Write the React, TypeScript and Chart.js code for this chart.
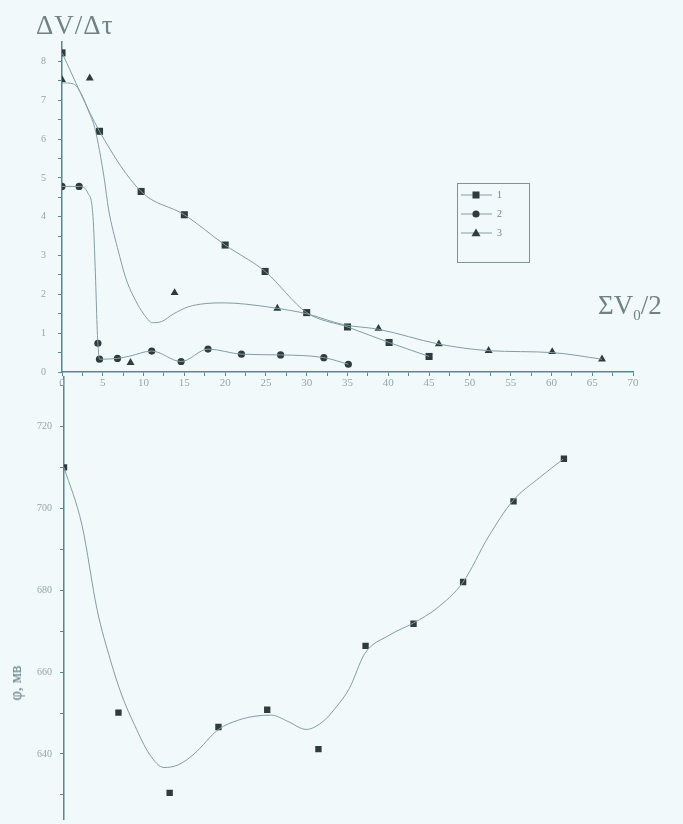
import React, { useEffect, useRef } from "react";
import { Chart, registerables } from "chart.js";
Chart.register(...registerables);

// ---------- data ----------
const xTickValues = [0, 2.5, 5, 7.5, 10, 12.5, 15, 17.5, 20, 22.5, 25, 27.5, 30, 32.5, 35, 37.5, 40, 42.5, 45, 47.5, 50, 52.5, 55, 57.5, 60, 62.5, 65, 67.5, 70];
const topYTickValues = [0, 0.5, 1, 1.5, 2, 2.5, 3, 3.5, 4, 4.5, 5, 5.5, 6, 6.5, 7, 7.5, 8];
const bottomYTickValues = [630, 640, 650, 660, 670, 680, 690, 700, 710, 720, 730];

// series 1 (squares)
const s1X = [0, 4.6, 9.7, 15.0, 20.0, 24.9, 30.0, 35.0, 40.1, 45.0];
const s1Y = [8.22, 6.2, 4.65, 4.05, 3.27, 2.59, 1.53, 1.16, 0.76, 0.4];
// series 2 (circles)
const s2X = [0, 2.1, 4.4, 4.6, 6.8, 11.0, 14.6, 17.9, 22.0, 26.8, 32.1, 35.1];
const s2Y = [4.78, 4.78, 0.74, 0.33, 0.35, 0.54, 0.27, 0.59, 0.46, 0.44, 0.37, 0.2];
// series 3 (triangles)
const s3X = [0, 3.4, 8.4, 13.8, 26.4, 38.8, 46.2, 52.3, 60.1, 66.2];
const s3Y = [7.53, 7.57, 0.24, 2.04, 1.64, 1.12, 0.72, 0.55, 0.52, 0.33];

// fitted curve of series 2
const c2X = [0, 2.1, 3.2, 3.8, 4.1, 4.3, 4.4, 4.6, 6.8, 8.3, 11.0, 14.6, 17.9, 22.0, 26.8, 32.1, 35.1];
const c2Y = [4.78, 4.78, 4.6, 4.0, 2.5, 1.2, 0.74, 0.33, 0.35, 0.41, 0.54, 0.27, 0.59, 0.46, 0.44, 0.37, 0.2];
// fitted curve of series 3
const c3X = [0, 1.4, 2.4, 3.2, 4.0, 4.6, 5.2, 5.7, 6.8, 7.9, 9.0, 10.0, 11.1, 12.2, 13.7, 15.5, 17.5, 20.0, 22.4, 26.4, 30.0, 34.5, 38.8, 46.2, 52.3, 60.1, 66.2];
const c3Y = [7.45, 7.42, 7.15, 6.75, 6.3, 5.7, 4.95, 4.2, 3.2, 2.37, 1.85, 1.5, 1.27, 1.3, 1.5, 1.68, 1.76, 1.78, 1.75, 1.64, 1.5, 1.22, 1.1, 0.72, 0.55, 0.5, 0.33];

// lower panel: potential
const pX = [0, 6.7, 13.0, 19.0, 25.0, 31.3, 37.1, 43.0, 49.1, 55.3, 61.5];
const pY = [710, 650.1, 630.5, 646.6, 650.8, 641.2, 666.4, 671.8, 682.0, 701.7, 712.1];
const cbX = [0, 2.2, 4.1, 5.7, 7.1, 8.7, 10.5, 12.3, 14.0, 16.0, 19.0, 21.5, 23.4, 25.5, 27.5, 29.8, 31.9, 33.5, 35.1, 37.0, 40.0, 43.0, 45.8, 49.1, 52.2, 55.2, 58.5, 61.4];
const cbY = [710, 696, 675, 663, 654.4, 647, 640, 636.7, 637.3, 640, 646, 648.3, 649.2, 649.5, 648, 646, 648, 651.5, 656, 664.5, 669, 672, 675.5, 682, 693, 701.8, 707.5, 712];

const legendLabels = ["1", "2", "3"];
const legendStyles = ["rect", "circle", "triangle"];

// ---------- styles ----------
const BG = "#f2f9fb";
const AXIS = "#4f8b92";
const LINE = "#7f9ea3";
const MARK = "#2f3c3e";
const TICK_TXT = "#93a7aa";
const FONT = "'Liberation Serif', 'DejaVu Serif', serif";

const pts = (xs: number[], ys: number[]) => xs.map((x, i) => ({ x, y: ys[i] }));

function drawMarker(ctx: CanvasRenderingContext2D, style: string, x: number, y: number) {
  ctx.beginPath();
  if (style === "rect") {
    ctx.rect(x - 3.5, y - 3.5, 7, 7);
  } else if (style === "circle") {
    ctx.arc(x, y, 3.6, 0, Math.PI * 2);
  } else {
    ctx.moveTo(x, y - 4.5);
    ctx.lineTo(x + 4.5, y + 3.2);
    ctx.lineTo(x - 4.5, y + 3.2);
    ctx.closePath();
  }
  ctx.fill();
}

const legendPlugin = {
  id: "boxLegend",
  afterDraw(chart: any) {
    const ctx = chart.ctx as CanvasRenderingContext2D;
    ctx.save();
    ctx.strokeStyle = "#7d9497";
    ctx.lineWidth = 1;
    ctx.strokeRect(457.5, 183.5, 72, 79);
    const ys = [195, 214, 233];
    legendLabels.forEach((lab, i) => {
      const y = ys[i];
      ctx.strokeStyle = LINE;
      ctx.beginPath();
      ctx.moveTo(461, y);
      ctx.lineTo(492, y);
      ctx.stroke();
      ctx.fillStyle = MARK;
      drawMarker(ctx, legendStyles[i], 476, y);
      ctx.fillStyle = "#6f8588";
      ctx.font = `10px ${FONT}`;
      ctx.textBaseline = "middle";
      ctx.fillText(lab, 497, y);
    });
    ctx.restore();
  },
};

function TopChart() {
  const ref = useRef<HTMLCanvasElement>(null);
  useEffect(() => {
    if (!ref.current) return;
    const chart = new Chart(ref.current, {
      type: "scatter",
      data: {
        datasets: [
          { data: pts(c2X, c2Y), showLine: true, borderColor: LINE, borderWidth: 1, pointRadius: 0, cubicInterpolationMode: "monotone" } as any,
          { data: pts(c3X, c3Y), showLine: true, borderColor: LINE, borderWidth: 1, pointRadius: 0, cubicInterpolationMode: "monotone" } as any,
          { data: pts(s1X, s1Y), showLine: true, borderColor: LINE, borderWidth: 1, pointRadius: 0, cubicInterpolationMode: "monotone" } as any,
          { data: pts(s1X, s1Y), showLine: false, pointStyle: "rect", pointRadius: 5, backgroundColor: MARK, borderColor: MARK, borderWidth: 0 },
          { data: pts(s2X, s2Y), showLine: false, pointStyle: "circle", pointRadius: 3.6, backgroundColor: MARK, borderColor: MARK, borderWidth: 0 },
          { data: pts(s3X, s3Y), showLine: false, pointStyle: "triangle", pointRadius: 4.6, backgroundColor: MARK, borderColor: MARK, borderWidth: 0 },
        ],
      },
      options: {
        animation: false,
        responsive: false,
        devicePixelRatio: 1,
        layout: { padding: { top: 42, right: 50, left: 0, bottom: 0 } },
        plugins: { legend: { display: false }, tooltip: { enabled: false } },
        scales: {
          x: {
            type: "linear",
            min: 0,
            max: 70,
            afterBuildTicks: (s: any) => { s.ticks = xTickValues.map((v) => ({ value: v })); },
            afterFit: (s: any) => { s.height = 24; s.paddingLeft = 0; s.paddingRight = 0; },
            ticks: {
              autoSkip: false,
              maxRotation: 0,
              padding: 1,
              color: TICK_TXT,
              font: { family: FONT, size: 11 },
              callback: (v: any) => (Number(v) % 5 === 0 ? String(v) : ""),
            },
            grid: { drawOnChartArea: false, color: AXIS, tickLength: 4 },
            border: { color: AXIS, width: 1.5 },
          },
          y: {
            type: "linear",
            min: 0,
            max: 8.5,
            afterBuildTicks: (s: any) => { s.ticks = topYTickValues.map((v) => ({ value: v })); },
            afterFit: (s: any) => { s.width = 62; s.paddingTop = 0; s.paddingBottom = 0; },
            ticks: {
              autoSkip: false,
              padding: 12,
              color: TICK_TXT,
              font: { family: FONT, size: 10 },
              callback: (v: any) => (Number.isInteger(Number(v)) ? String(v) : ""),
            },
            grid: { drawOnChartArea: false, color: AXIS, tickLength: 4 },
            border: { color: AXIS, width: 1.5 },
          },
        },
      } as any,
      plugins: [legendPlugin],
    });
    return () => chart.destroy();
  }, []);
  return <canvas ref={ref} width={683} height={396} style={{ position: "absolute", left: 0, top: 0 }} />;
}

function BottomChart() {
  const ref = useRef<HTMLCanvasElement>(null);
  useEffect(() => {
    if (!ref.current) return;
    const chart = new Chart(ref.current, {
      type: "scatter",
      data: {
        datasets: [
          { data: pts(cbX, cbY), showLine: true, borderColor: LINE, borderWidth: 1, pointRadius: 0, cubicInterpolationMode: "monotone" } as any,
          { data: pts(pX, pY), showLine: false, pointStyle: "rect", pointRadius: 4.5, backgroundColor: MARK, borderColor: MARK, borderWidth: 0 },
        ],
      },
      options: {
        animation: false,
        responsive: false,
        devicePixelRatio: 1,
        layout: { padding: { top: 0, right: 50, left: 0, bottom: 0 } },
        plugins: { legend: { display: false }, tooltip: { enabled: false } },
        scales: {
          x: { type: "linear", min: 0, max: 70, display: false },
          y: {
            type: "linear",
            min: 624,
            max: 732.2,
            afterBuildTicks: (s: any) => { s.ticks = bottomYTickValues.map((v) => ({ value: v })); },
            afterFit: (s: any) => { s.width = 64; s.paddingTop = 0; s.paddingBottom = 0; },
            ticks: {
              autoSkip: false,
              padding: 8,
              color: TICK_TXT,
              font: { family: FONT, size: 10 },
              callback: (v: any) => (Number(v) % 20 === 0 ? String(v) : ""),
            },
            grid: { drawOnChartArea: false, color: AXIS, tickLength: 4 },
            border: { color: AXIS, width: 1.5 },
          },
        },
      } as any,
    });
    return () => chart.destroy();
  }, []);
  return <canvas ref={ref} width={683} height={452} style={{ position: "absolute", left: 0, top: 372 }} />;
}

export default function App() {
  return (
    <div style={{ position: "fixed", left: 0, top: 0, width: 683, height: 824, background: BG, overflow: "hidden", fontFamily: FONT }}>
      <BottomChart />
      <TopChart />
      <div style={{ position: "absolute", left: 36, top: 9, fontSize: 27, letterSpacing: 1, color: "#6f8285", lineHeight: "32px" }}>
        ΔV/Δτ
      </div>
      <div style={{ position: "absolute", left: 598, top: 289, fontSize: 27, color: "#6f8285", lineHeight: "32px", whiteSpace: "nowrap" }}>
        ΣV<sub style={{ fontSize: 15 }}>0</sub>/2
      </div>
      <div
        style={{
          position: "absolute",
          left: 16,
          top: 683,
          transform: "translate(-50%, -50%) rotate(-90deg)",
          fontSize: 16,
          color: "#5d7a80",
          whiteSpace: "nowrap",
        }}
      >
        φ, мв
      </div>
    </div>
  );
}
